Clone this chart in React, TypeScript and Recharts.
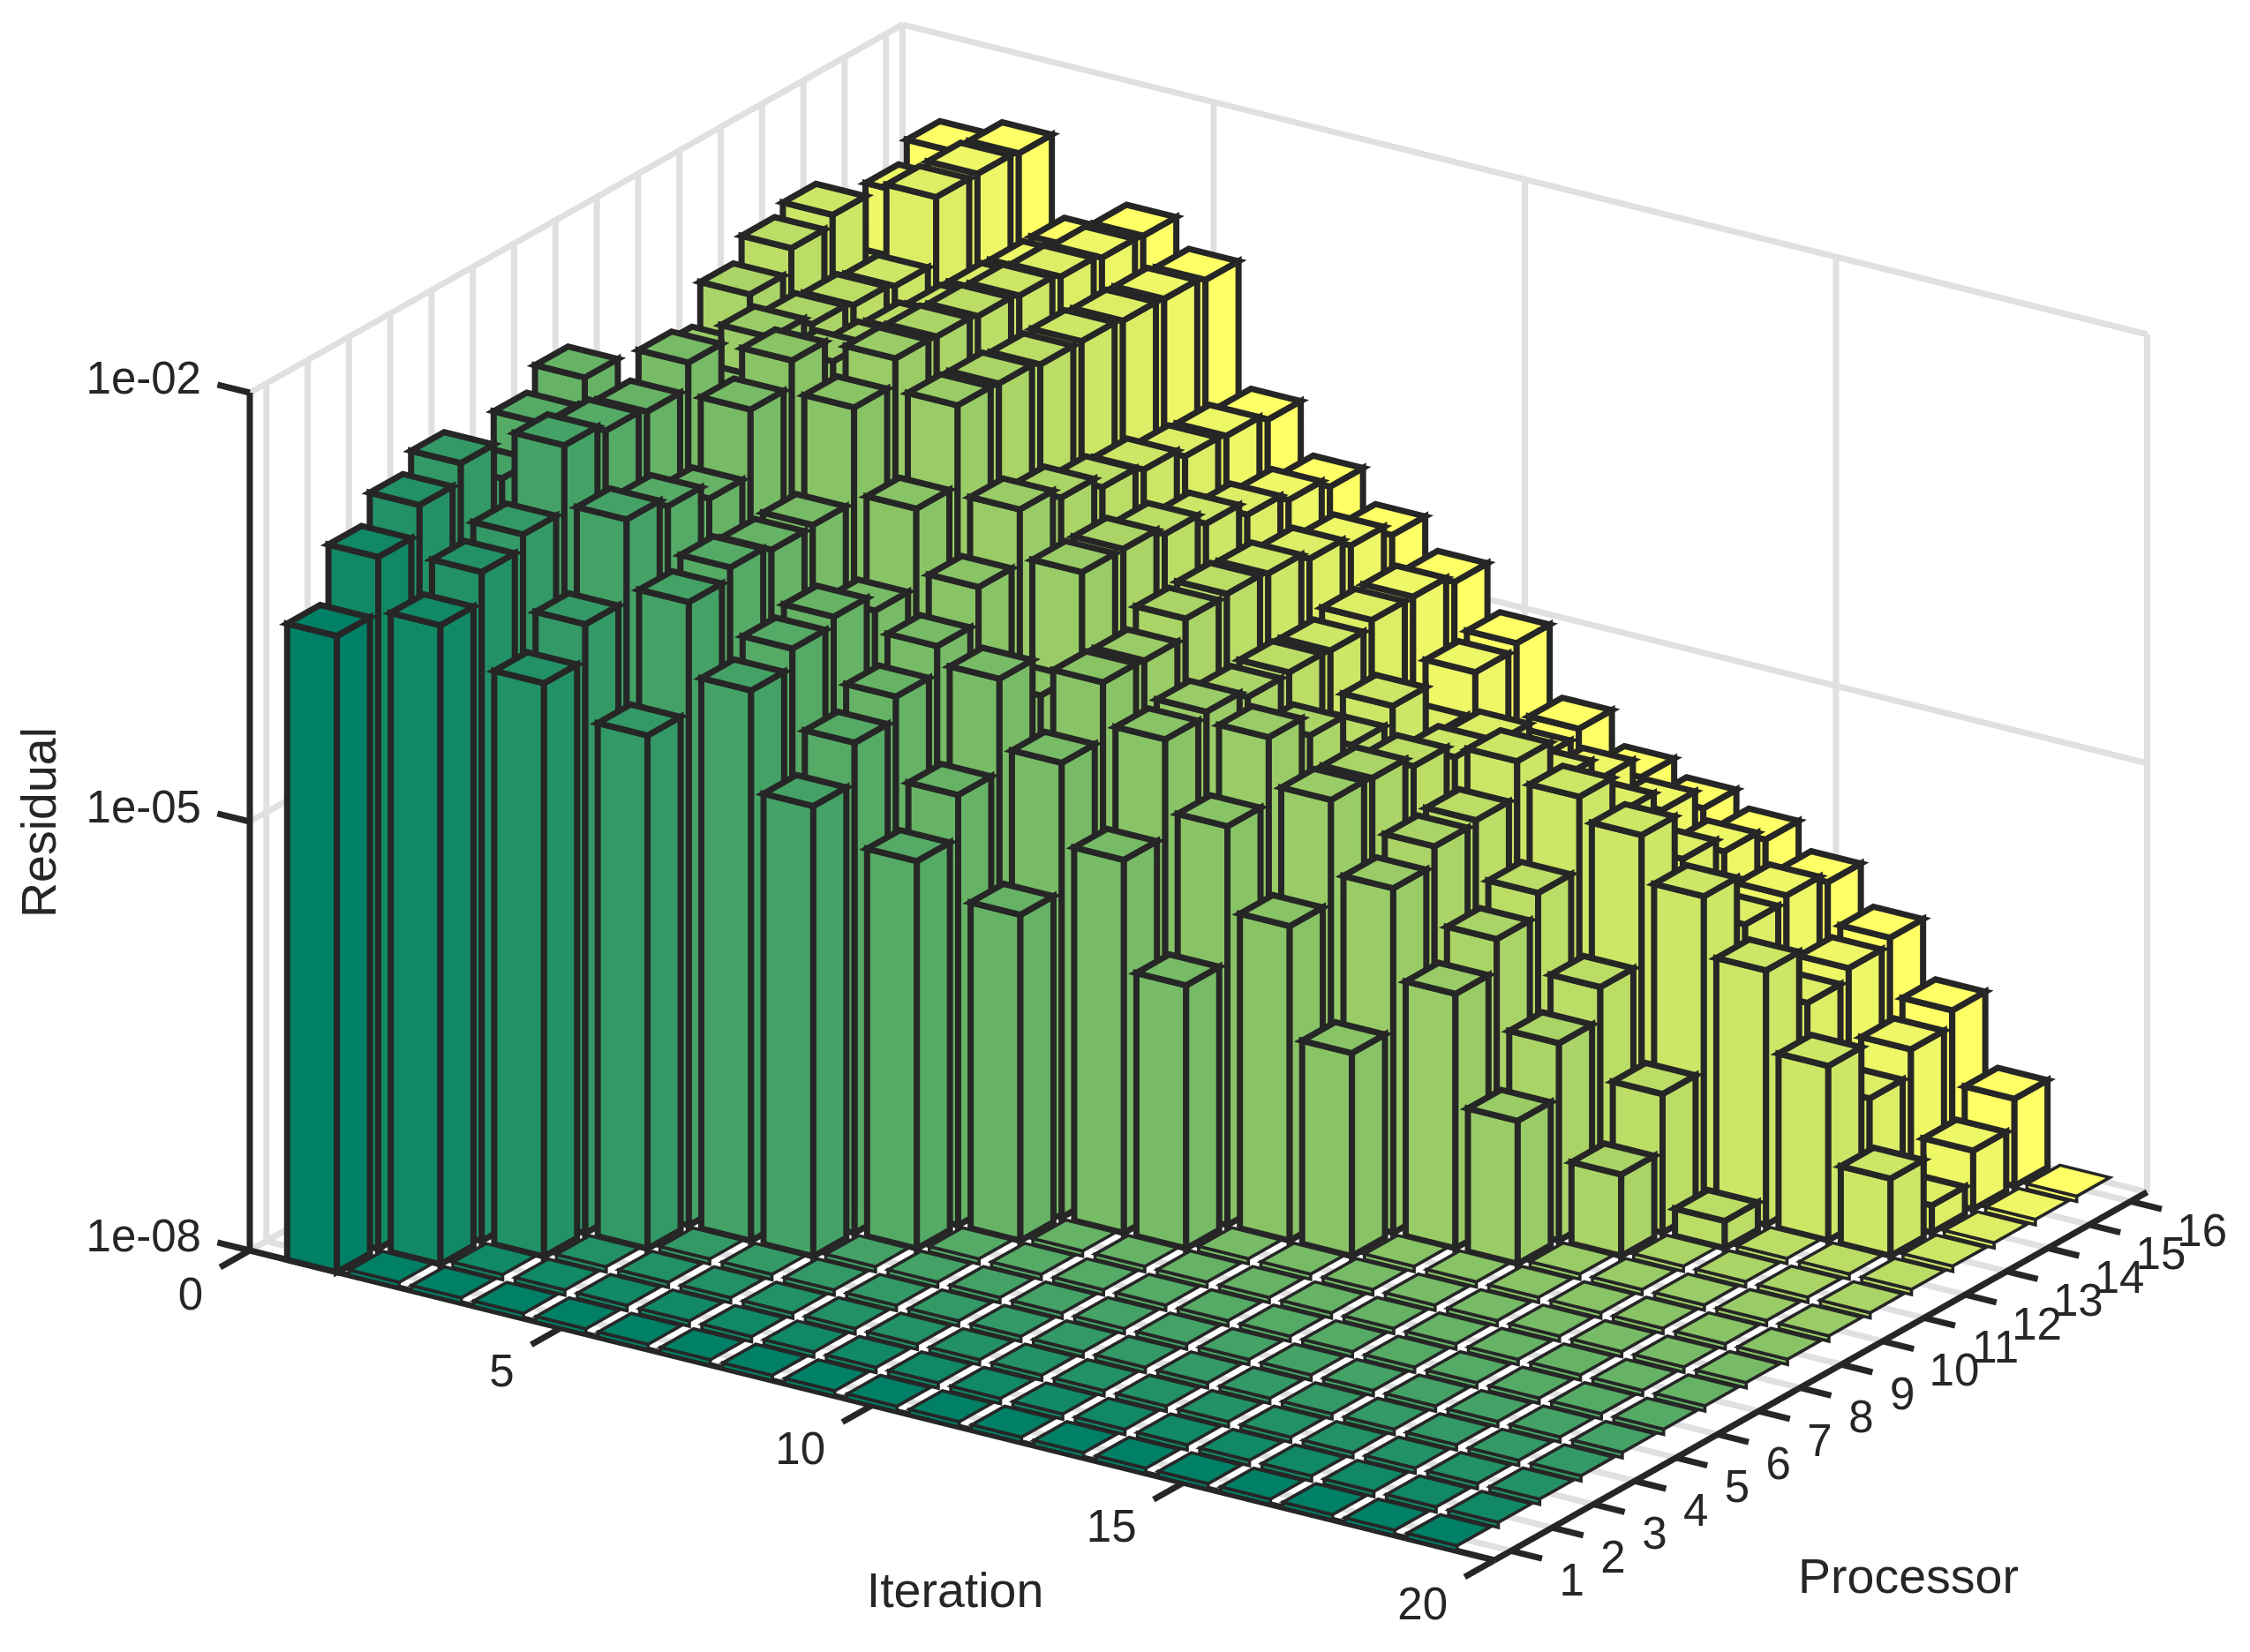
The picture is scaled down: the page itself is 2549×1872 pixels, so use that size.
import { ScatterChart, Scatter, XAxis, YAxis, ReferenceLine } from "recharts";

const WIDTH = 2549;
const HEIGHT = 1872;

// log10(residual) per iteration, one list per processor. Iterations past the end of a list are zero.
const proc1 = [-3.55];
const proc2 = [-3.16, -3.53];
const proc3 = [-2.96, -3.32, -3.99];
const proc4 = [-2.83, -3.22, -3.74, -4.41];
const proc5 = [-3.1, -2.76, -3.17, -3.64, -4.15, -4.85];
const proc6 = [-2.88, -2.82, -3.24, -3.56, -4.02, -4.57, -5.29];
const proc7 = [-2.72, -2.85, -3.35, -3.6, -3.96, -4.41, -4.99, -5.72];
const proc8 = [-3.28, -2.67, -2.89, -3.59, -4.08, -4.22, -4.34, -4.82, -5.39, -6.16];
const proc9 = [-3.27, -3.07, -2.71, -2.93, -3.53, -3.97, -4.62, -4.42, -4.71, -5.21, -5.8, -6.58];
const proc10 = [-3.07, -2.82, -2.88, -2.75, -2.97, -3.59, -3.92, -4.43, -4.68, -4.75, -5.08, -5.59, -6.22, -7.0];
const proc11 = [-2.79, -2.89, -2.98, -2.76, -2.98, -3.67, -3.92, -4.3, -4.74, -4.9, -5.09, -5.46, -6.0, -6.62, -7.43];
const proc12 = [-2.63, -2.92, -3.01, -2.78, -3.01, -3.76, -3.98, -4.29, -4.73, -5.13, -5.17, -5.44, -5.84, -6.39, -7.03, -7.81];
const proc13 = [-2.56, -2.95, -3.05, -2.8, -3.01, -3.8, -4.07, -4.31, -4.74, -5.02, -5.27, -5.19, -5.33, -5.49, -5.81, -6.22, -6.78, -7.46];
const proc14 = [-3.17, -2.49, -3.06, -2.83, -3.03, -3.87, -4.17, -4.37, -4.69, -5.38, -5.33, -5.48, -5.6, -5.82, -6.17, -6.61, -7.17, -7.81];
const proc15 = [-2.75, -2.49, -3.07, -2.86, -3.04, -3.89, -4.23, -4.44, -4.69, -5.11, -5.61, -5.64, -5.75, -5.93, -6.13, -6.53, -6.99, -7.59];
const proc16 = [-2.61, -2.51, -3.07, -2.87, -3.07, -3.94, -4.3, -4.53, -4.75, -5.07, -5.56, -5.79, -5.9, -6.01, -6.2, -6.48, -6.88, -7.39];

const residuals = [proc1, proc2, proc3, proc4, proc5, proc6, proc7, proc8, proc9, proc10, proc11, proc12, proc13, proc14, proc15, proc16];
const iterations = Array.from({ length: 19 }, (_, i) => i + 1);
const iterTicks = [0, 5, 10, 15, 20];
const procTicks = residuals.map((_, i) => i + 1);
const zTicks = [-8, -5, -2];
const zTickLabels = ["1e-08", "1e-05", "1e-02"];

// oblique projection of the 3D box onto the page
const ORIGIN = { x: 283, y: 1417 };
const ITER = { x: 70.5, y: 17.55 };
const PROC = { x: 46.8, y: -26.4 };
const DECADE = 162;
const PROC_MIN = 0.6;
const PROC_MAX = 16.4;
const BAR_HALF = 0.4;
const FLAT = 6;

const INK = "#262626";
const GRID = "#e0e0e0";

const project = (iter: number, proc: number, logZ = -8) => ({
  sx: ORIGIN.x + iter * ITER.x + (proc - PROC_MIN) * PROC.x,
  sy: ORIGIN.y + iter * ITER.y + (proc - PROC_MIN) * PROC.y - (logZ + 8) * DECADE,
});

// summer colormap, low processor to high
const procColor = (proc: number) => {
  const t = (proc - 1) / 15;
  return `rgb(${Math.round(255 * t)},${Math.round(255 * (0.5 + 0.5 * t))},102)`;
};

const pts = (list: number[][]) => list.map((p) => p.join(",")).join(" ");

function Box(props: any) {
  const { cx, cy, payload, fill } = props;
  const flat = payload.logZ == null;
  const h = flat ? FLAT : (payload.logZ + 8) * DECADE;
  const ix = BAR_HALF * ITER.x;
  const iy = BAR_HALF * ITER.y;
  const px = BAR_HALF * PROC.x;
  const py = BAR_HALF * PROC.y;
  const left = [cx - ix - px, cy - iy - py];
  const front = [cx + ix - px, cy + iy - py];
  const right = [cx + ix + px, cy + iy + py];
  const back = [cx - ix + px, cy - iy + py];
  const up = (p: number[]) => [p[0], p[1] - h];
  const style = {
    fill,
    stroke: INK,
    strokeWidth: flat ? 3.6 : 7,
    strokeLinejoin: "miter" as const,
  };
  return (
    <g>
      <polygon points={pts([left, front, up(front), up(left)])} {...style} />
      {!flat && <polygon points={pts([front, right, up(right), up(front)])} {...style} />}
      <polygon points={pts([up(left), up(front), up(right), up(back)])} {...style} />
    </g>
  );
}

function Label(props: any) {
  const { cx, cy, payload } = props;
  return (
    <text
      x={cx}
      y={cy}
      textAnchor={payload.anchor}
      dominantBaseline="central"
      fontFamily="'Liberation Sans', Arial, sans-serif"
      fontSize={payload.size}
      fill={INK}
      transform={payload.rotate ? `rotate(${payload.rotate} ${cx} ${cy})` : undefined}
    >
      {payload.text}
    </text>
  );
}

const seriesFor = (proc: number) =>
  iterations.map((iter) => {
    const logZ = residuals[proc - 1][iter - 1] ?? null;
    return { iter, proc, logZ, ...project(iter, proc) };
  });

const seg = (a: { sx: number; sy: number }, b: { sx: number; sy: number }) => [
  { x: a.sx, y: a.sy },
  { x: b.sx, y: b.sy },
];

const gridSegments = [
  ...procTicks.map((p) => seg(project(0, p), project(20, p))),
  ...procTicks.map((p) => seg(project(0, p), project(0, p, -2))),
  ...iterTicks.map((i) => seg(project(i, PROC_MIN), project(i, PROC_MAX))),
  ...iterTicks.map((i) => seg(project(i, PROC_MAX), project(i, PROC_MAX, -2))),
  ...zTicks.map((z) => seg(project(0, PROC_MIN, z), project(0, PROC_MAX, z))),
  ...zTicks.map((z) => seg(project(0, PROC_MAX, z), project(20, PROC_MAX, z))),
  seg(project(20, PROC_MAX), project(20, PROC_MAX, -2)),
];

const axisSegments = [
  seg(project(0, PROC_MIN), project(20, PROC_MIN)),
  seg(project(20, PROC_MIN), project(20, PROC_MAX)),
  seg(project(0, PROC_MIN), project(0, PROC_MIN, -2)),
  ...iterTicks.map((i) => seg(project(i, PROC_MIN), project(i, PROC_MIN - 0.72))),
  ...procTicks.map((p) => seg(project(20, p), project(20.5, p))),
  ...zTicks.map((z) => seg(project(0, PROC_MIN, z), project(-0.52, PROC_MIN, z))),
];

const tickText = (text: string, at: { sx: number; sy: number }, dx: number, dy: number, anchor = "middle") => ({
  text,
  sx: at.sx + dx,
  sy: at.sy + dy,
  anchor,
  size: 51,
});

const labels = [
  ...iterTicks.map((i) => tickText(String(i), project(i, PROC_MIN), -53, 49, "end")),
  ...procTicks.map((p) => tickText(String(p), project(20, p), p > 9 ? 81 : 69, 33)),
  ...zTicks.map((z, k) => tickText(zTickLabels[k], project(0, PROC_MIN, z), -55, -17, "end")),
  { text: "Iteration", sx: 1082, sy: 1802, anchor: "middle", size: 55.5 },
  { text: "Processor", sx: 2162, sy: 1786, anchor: "middle", size: 55.5 },
  { text: "Residual", sx: 44, sy: 932, anchor: "middle", size: 55.5, rotate: -90 },
];

export default function App() {
  return (
    <div style={{ position: "absolute", left: 0, top: 0, width: WIDTH, height: HEIGHT, background: "#fff" }}>
      <ScatterChart width={WIDTH} height={HEIGHT} margin={{ top: 0, right: 0, bottom: 0, left: 0 }}>
        <XAxis type="number" dataKey="sx" domain={[0, WIDTH]} hide />
        <YAxis type="number" dataKey="sy" domain={[0, HEIGHT]} reversed hide />
        {gridSegments.map((segment, i) => (
          <ReferenceLine key={`g${i}`} segment={segment} stroke={GRID} strokeWidth={7} ifOverflow="visible" />
        ))}
        {axisSegments.map((segment, i) => (
          <ReferenceLine key={`a${i}`} segment={segment} stroke={INK} strokeWidth={7} ifOverflow="visible" />
        ))}
        {[...procTicks].reverse().map((p) => (
          <Scatter
            key={p}
            name={`Processor ${p}`}
            data={seriesFor(p)}
            fill={procColor(p)}
            shape={Box}
            isAnimationActive={false}
          />
        ))}
        <Scatter data={labels} shape={Label} isAnimationActive={false} />
      </ScatterChart>
    </div>
  );
}
